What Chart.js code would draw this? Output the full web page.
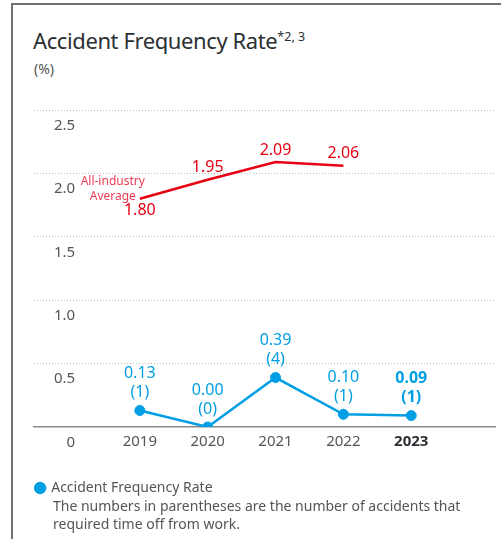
<!DOCTYPE html>
<html><head><meta charset="utf-8">
<script src="https://cdn.jsdelivr.net/npm/chart.js@4"></script>
<style>
html,body{margin:0;padding:0;background:#fff;width:501px;height:539px;overflow:hidden;font-family:"Noto Sans",sans-serif;}
#frame{position:absolute;left:11px;top:3px;width:600px;height:600px;border-top:2px solid #707070;border-left:2px solid #707070;}
#title{position:absolute;left:33px;top:25px;font-size:22px;letter-spacing:-0.4px;color:#2b2f33;white-space:nowrap;line-height:30px;}
#title span{font-size:12.5px;position:relative;top:-8px;letter-spacing:0;}
#unit{position:absolute;left:34px;top:60px;font-size:14px;color:#555;line-height:18px;}
#note{position:absolute;left:53px;top:497px;font-size:14px;color:#555;line-height:18px;}
#c{position:absolute;left:0;top:0;}
</style></head>
<body>
<div id="frame"></div>
<div id="title">Accident Frequency Rate<span>*2, 3</span></div>
<div id="unit">(%)</div>
<canvas id="c" width="501" height="539"></canvas>
<div id="note">The numbers in parentheses are the number of accidents that<br>required time off from work.</div>
<script>
const years = [2019, 2020, 2021, 2022, 2023];
const accidentRate = [0.13, 0.00, 0.39, 0.10, 0.09];
const accidentCount = [1, 0, 4, 1, 1];
const industryYears = [2019, 2020, 2021, 2022];
const industryAverage = [1.80, 1.95, 2.09, 2.06];
const yTicks = [0, 0.5, 1.0, 1.5, 2.0, 2.5];
const latestYear = 2023;

const BLUE = '#009fe3';
const RED = '#e60012';
const FONT = '"Noto Sans", sans-serif';

const labelPlugin = {
  id: 'valueLabels',
  afterDatasetsDraw(chart) {
    const ctx = chart.ctx;
    ctx.save();
    ctx.textAlign = 'center';
    ctx.textBaseline = 'middle';
    const m0 = chart.getDatasetMeta(0);
    m0.data.forEach((el, i) => {
      const bold = years[i] === latestYear;
      ctx.font = (bold ? 'bold ' : '') + '16px ' + FONT;
      ctx.fillStyle = BLUE;
      ctx.fillText(accidentRate[i].toFixed(2), el.x, el.y - 37);
      ctx.fillText('(' + accidentCount[i] + ')', el.x, el.y - 18);
    });
    const m1 = chart.getDatasetMeta(1);
    ctx.fillStyle = RED;
    ctx.font = '16px ' + FONT;
    m1.data.forEach((el, i) => {
      ctx.fillText(industryAverage[i].toFixed(2), el.x, i === 0 ? el.y + 12 : el.y - 12);
    });
    const e0 = m1.data[0];
    ctx.font = '12px ' + FONT;
    ctx.fillStyle = '#ea3b53';
    ctx.textAlign = 'right';
    ctx.fillText('All-industry', e0.x + 5, e0.y - 17);
    ctx.fillText('Average', e0.x - 4, e0.y - 2);
    ctx.restore();
  }
};

new Chart(document.getElementById('c'), {
  type: 'line',
  data: {
    datasets: [
      {
        label: 'Accident Frequency Rate',
        data: years.map((y, i) => ({x: y, y: accidentRate[i]})),
        borderColor: BLUE,
        backgroundColor: BLUE,
        pointBackgroundColor: BLUE,
        pointBorderColor: BLUE,
        pointBorderWidth: 1,
        pointRadius: 5,
        borderWidth: 2.5,
        tension: 0
      },
      {
        label: 'All-industry Average',
        data: industryYears.map((y, i) => ({x: y, y: industryAverage[i]})),
        borderColor: RED,
        backgroundColor: RED,
        pointRadius: 0,
        borderWidth: 2.5,
        tension: 0
      }
    ]
  },
  options: {
    responsive: false,
    animation: false,
    devicePixelRatio: 1,
    layout: {padding: {left: 34, right: 5, top: 110, bottom: 34}},
    plugins: {
      tooltip: {enabled: false},
      legend: {
        position: 'bottom',
        align: 'start',
        labels: {
          usePointStyle: true,
          pointStyle: 'circle',
          boxWidth: 8.2,
          boxHeight: 8.2,
          padding: 2,
          color: '#555',
          font: {family: FONT, size: 14},
          filter: (item) => item.datasetIndex === 0
        }
      }
    },
    scales: {
      x: {
        type: 'linear',
        min: 2017.44,
        max: 2024.235,
        afterBuildTicks: (s) => { s.ticks = years.map(v => ({value: v})); },
        afterFit: (s) => { s.height = 52; },
        grid: {display: false, drawTicks: false},
        border: {display: true, color: '#8a8a8a', width: 1.5},
        ticks: {
          padding: 6,
          callback: (v) => String(v),
          color: (c) => c.tick && c.tick.value === latestYear ? '#2b2f33' : '#555',
          font: (c) => ({family: FONT, size: 15, weight: c.tick && c.tick.value === latestYear ? 'bold' : 'normal'})
        }
      },
      y: {
        min: 0,
        max: 2.5,
        afterBuildTicks: (s) => { s.ticks = yTicks.map(v => ({value: v})); },
        afterFit: (s) => { s.width = 0; },
        border: {display: false, dash: [1, 2]},
        grid: {
          drawTicks: false,
          color: (c) => c.tick && c.tick.value === 0 ? 'rgba(0,0,0,0)' : '#bdbdbd',
          lineWidth: 1
        },
        ticks: {
          mirror: true,
          crossAlign: 'far',
          padding: 20,
          labelOffset: 15.5,
          color: '#555',
          font: {family: FONT, size: 15},
          callback: (v) => v === 0 ? '0' : v.toFixed(1)
        }
      }
    }
  },
  plugins: [labelPlugin]
});
</script>
</body></html>
